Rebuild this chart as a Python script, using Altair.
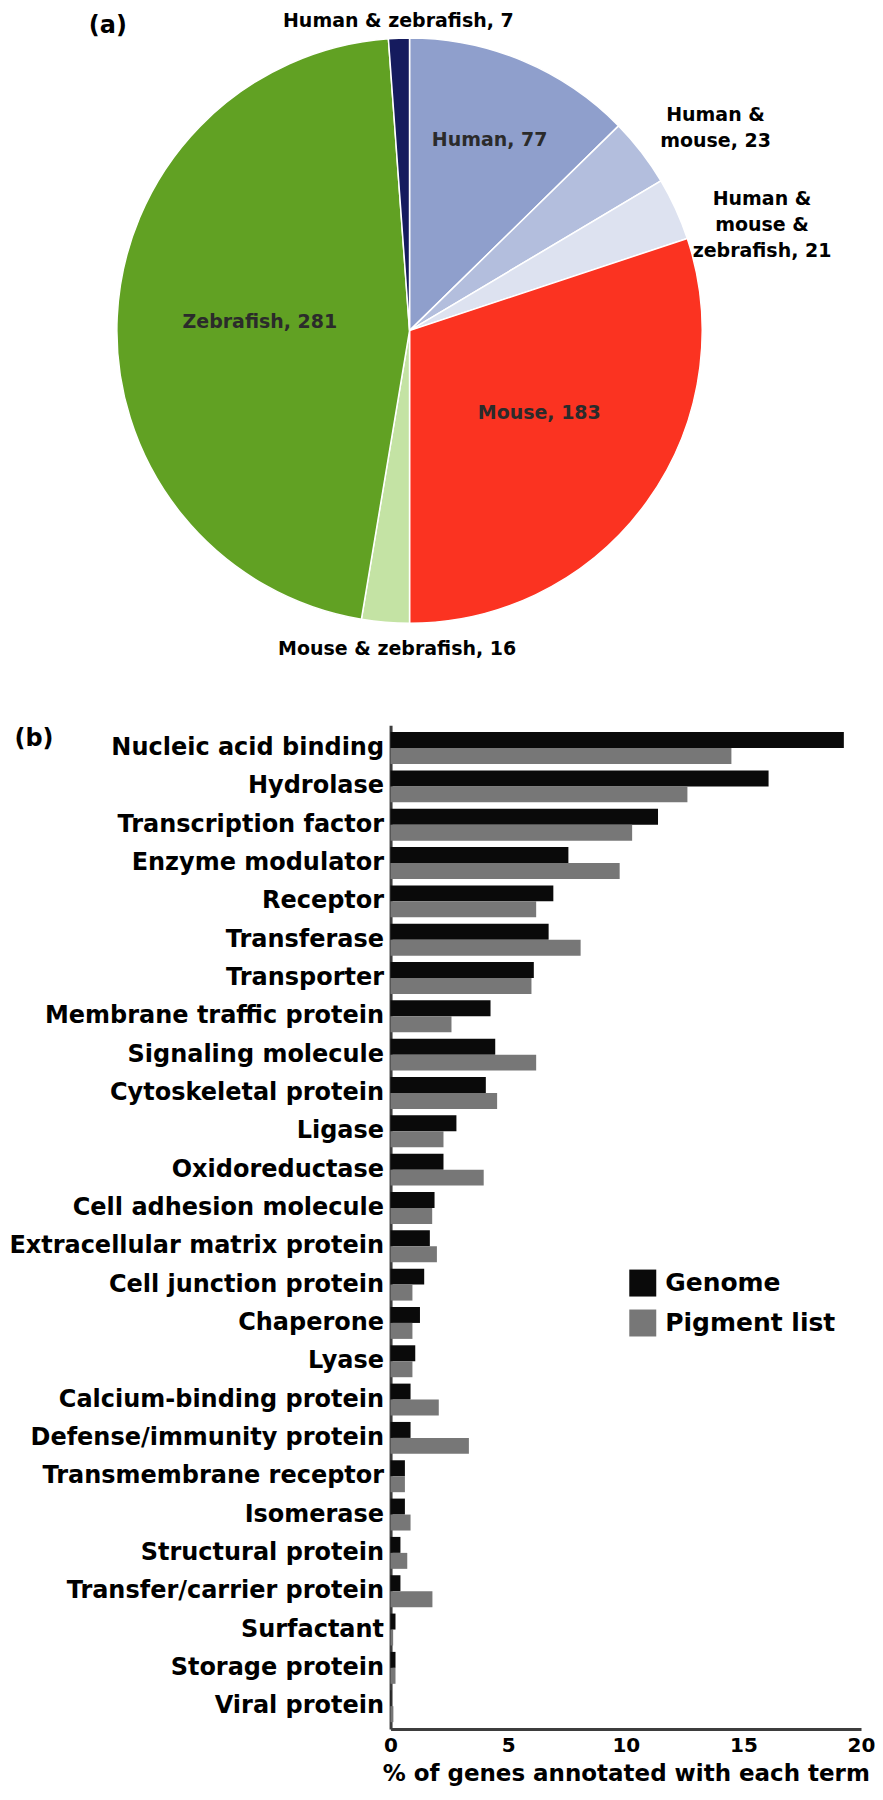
import altair as alt
import pandas as pd

FONT = "DejaVu Sans"

# ---------------- Panel (a): pie data ----------------
pie_names = ["Human", "Human & mouse", "Human & mouse & zebrafish", "Mouse",
             "Mouse & zebrafish", "Zebrafish", "Human & zebrafish"]
pie_counts = [77, 23, 21, 183, 16, 281, 7]
pie_text = ["Human, 77", "Human &\nmouse, 23", "Human &\nmouse &\nzebrafish, 21",
            "Mouse, 183", "Mouse & zebrafish, 16", "Zebrafish, 281", "Human & zebrafish, 7"]
pie_colors = ["#8F9FCC", "#B3BEDD", "#DDE2F0", "#FB3321", "#C4E3A4", "#61A123", "#151B5E"]

# ---------------- Panel (b): bar data ----------------
categories = [
    "Nucleic acid binding", "Hydrolase", "Transcription factor", "Enzyme modulator",
    "Receptor", "Transferase", "Transporter", "Membrane traffic protein",
    "Signaling molecule", "Cytoskeletal protein", "Ligase", "Oxidoreductase",
    "Cell adhesion molecule", "Extracellular matrix protein", "Cell junction protein",
    "Chaperone", "Lyase", "Calcium-binding protein", "Defense/immunity protein",
    "Transmembrane receptor", "Isomerase", "Structural protein",
    "Transfer/carrier protein", "Surfactant", "Storage protein", "Viral protein",
]
genome = [19.27, 16.07, 11.37, 7.56, 6.92, 6.72, 6.09, 4.25, 4.45, 4.05, 2.80, 2.25,
          1.87, 1.67, 1.43, 1.25, 1.05, 0.85, 0.85, 0.61, 0.61, 0.42, 0.42, 0.21, 0.21, 0.03]
pigment = [14.49, 12.62, 10.27, 9.74, 6.19, 8.08, 5.99, 2.59, 6.19, 4.53, 2.25, 3.96,
           1.77, 1.97, 0.93, 0.93, 0.93, 2.05, 3.33, 0.61, 0.85, 0.71, 1.78, 0.11, 0.21, 0.12]
series_names = ["Genome", "Pigment list"]
bar_colors = ["#0a0a0a", "#777777"]
x_ticks = [0, 5, 10, 15, 20]
x_title = "% of genes annotated with each term"
panel_tags = ["(a)", "(b)"]

# The concat grid aligns both panels on the bar plot's left edge (about x=393 on the
# page), so the pie panel's local coordinates are measured from that edge.
CX, CY = 19, 322
pie_df = pd.DataFrame({"name": pie_names, "count": pie_counts, "label": pie_text,
                       "idx": list(range(len(pie_names)))})

arc = alt.Chart(pie_df).mark_arc(outerRadius=293, stroke="white", strokeWidth=1.5).encode(
    theta=alt.Theta("count:Q", stack=True),
    order=alt.Order("idx:Q"),
    color=alt.Color("name:N", scale=alt.Scale(domain=pie_names, range=pie_colors), legend=None),
    x=alt.value(CX), y=alt.value(CY),
)

# label placement style: radius from centre, dx, dy (pixels)
label_style = {
    "Human": (207, 0, 0),
    "Human & mouse": (374, 10, 12),
    "Human & mouse & zebrafish": (377, 10, 25),
    "Mouse": (154, 5, -8),
    "Mouse & zebrafish": (320, 14, 0),
    "Zebrafish": (150, 0, -2),
    "Human & zebrafish": (310, 0, 0),
}
inside = ["Human", "Mouse", "Zebrafish"]


def lookup_expr(k):
    parts = [f"datum.name === '{n}' ? {v[k]}" for n, v in label_style.items()]
    return " : ".join(parts) + " : 0"


label_base = alt.Chart(pie_df).transform_window(
    cum="sum(count)", sort=[alt.SortField("idx")], frame=[None, 0]
).transform_joinaggregate(
    total="sum(count)"
).transform_calculate(
    ang="2*PI*(datum.cum - datum.count/2)/datum.total",
    r=lookup_expr(0), ddx=lookup_expr(1), ddy=lookup_expr(2),
).transform_calculate(
    px=f"{CX} + datum.r*sin(datum.ang) + datum.ddx",
    py=f"{CY} - datum.r*cos(datum.ang) + datum.ddy",
)


def label_layer(names, colour):
    test = " || ".join(f"datum.name === '{n}'" for n in names)
    return label_base.transform_filter(test).mark_text(
        font=FONT, fontWeight="bold", fontSize=19, lineBreak="\n", lineHeight=26,
        color=colour, align="center", baseline="middle"
    ).encode(
        x=alt.X("px:Q", scale=None),
        y=alt.Y("py:Q", scale=None),
        text="label:N",
    )


outside = [n for n in pie_names if n not in inside]
lab_in = label_layer(inside, "#2b2b2b")
lab_out = label_layer(outside, "black")

tag_a = alt.Chart(pd.DataFrame({"t": [panel_tags[0]]})).mark_text(
    font=FONT, fontWeight="bold", fontSize=24, color="black", align="center", baseline="middle"
).encode(text="t:N", x=alt.value(CX - 302), y=alt.value(17))

pie_view = alt.layer(arc, lab_in, lab_out, tag_a).properties(width=471, height=680)

# ---------------- Bars ----------------
rows = []
for c, g, p in zip(categories, genome, pigment):
    rows.append({"cat": c, "series": series_names[0], "value": g})
    rows.append({"cat": c, "series": series_names[1], "value": p})
bar_df = pd.DataFrame(rows)

bars = alt.Chart(bar_df).mark_bar().encode(
    x=alt.X("value:Q", scale=alt.Scale(domain=[0, 20], nice=False, zero=True),
            axis=alt.Axis(values=x_ticks, title=x_title, grid=False, ticks=False,
                          domainColor="#3d3d3d", domainWidth=3,
                          labelFont=FONT, labelFontSize=20, labelFontWeight="bold",
                          labelColor="black", labelPadding=6, labelFlush=False,
                          labelOverlap=False,
                          titleFont=FONT, titleFontSize=23, titleFontWeight="bold",
                          titleColor="black", titlePadding=8)),
    y=alt.Y("cat:N", sort=categories,
            scale=alt.Scale(paddingInner=0.167, paddingOuter=0.18),
            axis=alt.Axis(title=None, ticks=False, grid=False,
                          domainColor="#3d3d3d", domainWidth=3,
                          labelFont=FONT, labelFontSize=24, labelFontWeight="bold",
                          labelColor="black", labelPadding=7, labelLimit=600)),
    yOffset=alt.YOffset("series:N", sort=series_names),
    color=alt.Color("series:N", scale=alt.Scale(domain=series_names, range=bar_colors),
                    legend=alt.Legend(title=None, orient="none", legendX=239, legendY=545,
                                      symbolType="square", symbolSize=729,
                                      symbolStrokeWidth=0, symbolOpacity=1,
                                      labelFont=FONT, labelFontSize=25,
                                      labelFontWeight="bold", labelColor="black",
                                      labelOffset=9, rowPadding=13, padding=0,
                                      labelLimit=400)),
)
tag_b = alt.Chart(pd.DataFrame({"t": [panel_tags[1]]})).mark_text(
    font=FONT, fontWeight="bold", fontSize=24, color="black", align="center", baseline="middle"
).encode(text="t:N", x=alt.value(-357), y=alt.value(13.5))

bar_view = alt.layer(bars, tag_b).properties(width=471, height=1005)

chart = alt.vconcat(pie_view, bar_view, spacing=37).resolve_scale(
    color="independent"
).properties(padding=0, background="white").configure_view(stroke=None)

chart.save("out.html", embed_options={"renderer": "svg", "actions": False})
